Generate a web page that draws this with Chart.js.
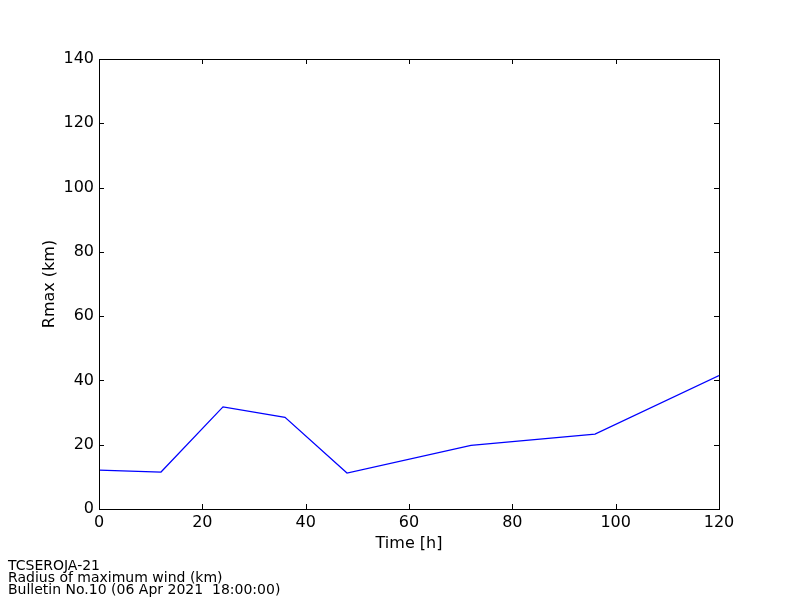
<!DOCTYPE html>
<html>
<head>
<meta charset="utf-8">
<script src="https://cdn.jsdelivr.net/npm/chart.js@4/dist/chart.umd.min.js"></script>
<style>
  html, body { margin: 0; padding: 0; background: #fff; }
  canvas { display: block; }
</style>
</head>
<body>
<canvas id="rmaxChart" width="800" height="600"></canvas>
<script>
// Rmax forecast for TCSEROJA-21
const leadHours = [0, 12, 24, 36, 48, 72, 96, 120];
const rmaxKm = [12.1, 11.5, 31.8, 28.5, 11.2, 19.8, 23.3, 41.5];
const xTicks = [0, 20, 40, 60, 80, 100, 120];
const yTicks = [0, 20, 40, 60, 80, 100, 120, 140];
const footerLines = ["TCSEROJA-21", "Radius of maximum wind (km)", "Bulletin No.10 (06 Apr 2021  18:00:00)"];

const font = "'DejaVu Sans', sans-serif";

// matplotlib-style frame with inward ticks on all four sides
const framePlugin = {
  id: "frame",
  afterDraw(chart) {
    const { ctx, chartArea: a, scales } = chart;
    const len = 5;
    ctx.save();
    ctx.strokeStyle = "#000";
    ctx.lineWidth = 1;
    ctx.beginPath();
    xTicks.forEach(v => {
      const x = Math.round(scales.x.getPixelForValue(v)) + 0.5;
      ctx.moveTo(x, a.bottom); ctx.lineTo(x, a.bottom - len);
      ctx.moveTo(x, a.top); ctx.lineTo(x, a.top + len);
    });
    yTicks.forEach(v => {
      const y = Math.round(scales.y.getPixelForValue(v)) + 0.5;
      ctx.moveTo(a.left, y); ctx.lineTo(a.left + len, y);
      ctx.moveTo(a.right, y); ctx.lineTo(a.right - len, y);
    });
    ctx.stroke();
    ctx.strokeRect(Math.round(a.left) + 0.5, Math.round(a.top) + 0.5,
      Math.round(a.right - a.left), Math.round(a.bottom - a.top));

    ctx.fillStyle = "#000";
    ctx.font = "14px " + font;
    ctx.textBaseline = "middle";
    footerLines.forEach((t, i) => ctx.fillText(t, 8, 566 + i * 12));
    ctx.restore();
  }
};

new Chart(document.getElementById("rmaxChart").getContext("2d"), {
  type: "line",
  data: {
    datasets: [{
      data: leadHours.map((h, i) => ({ x: h, y: rmaxKm[i] })),
      borderColor: "#0000ff",
      borderWidth: 1.2,
      pointRadius: 0,
      tension: 0,
      fill: false
    }]
  },
  options: {
    responsive: false,
    animation: false,
    layout: { padding: { top: 59, right: 81, left: 0, bottom: 0 } },
    plugins: { legend: { display: false }, tooltip: { enabled: false } },
    scales: {
      x: {
        type: "linear",
        min: 0, max: 120,
        afterBuildTicks: s => { s.ticks = xTicks.map(v => ({ value: v })); },
        afterFit: s => { s.height = 91; },
        grid: { display: false, drawTicks: false },
        border: { display: false },
        ticks: { color: "#000", padding: 4, font: { family: font, size: 16 } },
        title: { display: true, text: "Time [h]", color: "#000", padding: { top: 0, bottom: 47 }, font: { family: font, size: 16 } }
      },
      y: {
        min: 0, max: 140,
        afterBuildTicks: s => { s.ticks = yTicks.map(v => ({ value: v })); },
        afterFit: s => { s.width = 99; },
        grid: { display: false, drawTicks: false },
        border: { display: false },
        ticks: { color: "#000", padding: 5, font: { family: font, size: 16 } },
        title: { display: true, text: "Rmax (km)", color: "#000", padding: { top: 40, bottom: 0 }, font: { family: font, size: 16 } }
      }
    }
  },
  plugins: [framePlugin]
});
</script>
</body>
</html>
